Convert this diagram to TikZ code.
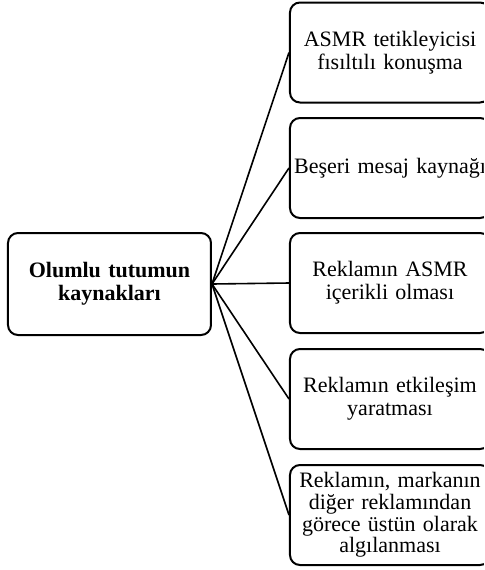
\documentclass[tikz,border=0pt]{standalone}
\usepackage{fontspec}
\setmainfont{Liberation Serif}
\begin{document}
\begin{tikzpicture}[x=0.5pt,y=-0.5pt,
  box/.style={draw,line width=1pt,rounded corners=5pt,minimum width=100pt,minimum height=50pt,
    text width=96pt,inner xsep=2pt,inner ysep=0pt,align=center,font=\fontsize{11}{11.4}\selectfont},
  link/.style={line width=0.8pt}]
\useasboundingbox (0,0) rectangle (484,570);
\clip (0,0) rectangle (484,570);
\node[draw,line width=1pt,rounded corners=5pt,minimum width=101.5pt,minimum height=51pt,
  text width=96pt,inner sep=0pt,align=center,font=\fontsize{11}{11.6}\selectfont\bfseries]
  (src) at (109.5,284) {Olumlu tutumun\\kaynakları};
\node[box] (b1) at (390,52.5) {ASMR tetikleyicisi\\fısıltılı konuşma};
\node[box] (b2) at (390,168) {Beşeri mesaj kaynağı};
\node[box] (b3) at (390,283) {Reklamın ASMR\\içerikli olması};
\node[box] (b4) at (390,399) {Reklamın etkileşim\\yaratması};
\node[box,font=\fontsize{11}{10.9}\selectfont] (b5) at (390,515) {Reklamın, markanın\\diğer reklamından\\görece üstün olarak\\algılanması};
\foreach \b in {b1,b2,b3,b4,b5} \draw[link] (src.east) -- (\b.west);
\end{tikzpicture}
\end{document}
